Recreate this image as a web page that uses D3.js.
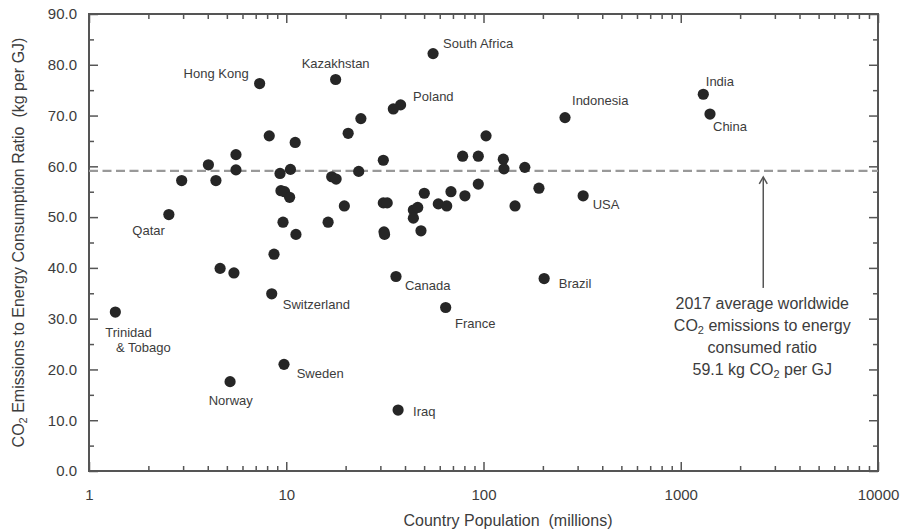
<!DOCTYPE html>
<html lang="en">
<head>
  <meta charset="UTF-8">
  <title>CO2 Emissions to Energy Consumption Ratio vs Population</title>
  <script src="https://d3js.org/d3.v7.min.js"></script>
  <style>
    body, html {
      margin: 0;
      padding: 0;
      background: #fff;
    }
    svg {
      display: block;
      font-family: Arial, "Liberation Sans", sans-serif;
    }
    .tick text {
      font-size: 15px;
      fill: #3c3c3c;
    }
    .tick line {
      stroke: #555;
      stroke-width: 1.5px;
    }
    .axis-title {
      font-size: 16px;
      fill: #3c3c3c;
    }
    .country-label {
      font-size: 13px;
      fill: #3c3c3c;
    }
    .note {
      font-size: 16px;
      fill: #3c3c3c;
      text-anchor: middle;
    }
  </style>
</head>
<body>
  <svg id="chart" width="901" height="532"></svg>

  <script>
    // Country names (empty = unlabeled point)
    const countries = [
      "Trinidad\n& Tobago", "Qatar", "Hong Kong", "Norway", "Switzerland", "Sweden",
      "Kazakhstan", "South Africa", "Poland", "Canada", "France", "Iraq", "Brazil",
      "Indonesia", "USA", "India", "China",
      "", "", "", "", "", "", "", "", "", "", "", "", "", "", "", "",
      "", "", "", "", "", "", "", "", "", "", "", "", "", "", "", "",
      "", "", "", "", "", "", "", "", "", "", "", "", "", "", "", ""
    ];

    // Population in millions
    const population = [
      1.36, 2.54, 7.33, 5.19, 8.44, 9.74,
      17.8, 55.5, 38.0, 36.0, 64.3, 36.9, 203,
      259, 320, 1301, 1407,
      2.95, 4.03, 4.40, 5.56, 5.56, 4.62, 5.43, 8.67, 8.2, 11.1, 9.3, 10.5, 9.4, 9.8, 10.4, 9.63,
      11.2, 17.0, 17.9, 20.6, 23.9, 34.9, 31.05, 23.3, 19.7, 16.3, 31.05, 32.5, 31.3, 31.5, 103, 78.4,
      94.1, 126, 127, 162, 191, 144.5, 94.1, 80.5, 68.4, 59.0, 65.1, 50.1, 44.1, 46.4, 44.1, 48.2
    ];

    // CO2 emissions to energy consumption ratio (kg per GJ)
    const ratio = [
      31.3, 50.5, 76.3, 17.6, 34.9, 21.0,
      77.1, 82.2, 72.1, 38.3, 32.2, 12.0, 37.9,
      69.6, 54.2, 74.2, 70.3,
      57.2, 60.3, 57.2, 62.3, 59.3, 39.9, 39.0, 42.7, 66.0, 64.7, 58.6, 59.4, 55.2, 55.0, 53.9, 49.0,
      46.6, 57.95, 57.5, 66.5, 69.4, 71.3, 61.2, 59.0, 52.2, 49.0, 52.8, 52.8, 47.1, 46.6, 66.0, 62.0,
      62.0, 61.4, 59.5, 59.8, 55.7, 52.2, 56.5, 54.2, 55.0, 52.6, 52.2, 54.7, 51.4, 51.9, 49.8, 47.3
    ];

    const worldAverage = 59.1;
    const xMajorTicks = [1, 10, 100, 1000, 10000];
    const yMajorTicks = [0, 10, 20, 30, 40, 50, 60, 70, 80, 90];

    // label placement relative to its point: anchor, [dx, dy] per line
    const labelPos = {
      "Trinidad\n& Tobago": { anchor: "start", lines: [[-10, 20], [0.7, 35]] },
      "Qatar": { anchor: "end", lines: [[-4, 15.5]] },
      "Hong Kong": { anchor: "end", lines: [[-11, -10]] },
      "Norway": { anchor: "middle", lines: [[0.7, 18.3]] },
      "Switzerland": { anchor: "start", lines: [[11, 10.3]] },
      "Sweden": { anchor: "start", lines: [[12.7, 9]] },
      "Kazakhstan": { anchor: "middle", lines: [[0, -16]] },
      "South Africa": { anchor: "start", lines: [[10, -10.5]] },
      "Poland": { anchor: "start", lines: [[12.5, -9]] },
      "Canada": { anchor: "start", lines: [[9, 8.3]] },
      "France": { anchor: "start", lines: [[9.3, 16.3]] },
      "Iraq": { anchor: "start", lines: [[15, 1.7]] },
      "Brazil": { anchor: "start", lines: [[14.7, 4.7]] },
      "Indonesia": { anchor: "start", lines: [[7, -17.5]] },
      "USA": { anchor: "start", lines: [[9.5, 9]] },
      "India": { anchor: "start", lines: [[2.5, -12.5]] },
      "China": { anchor: "start", lines: [[3, 12]] }
    };

    const data = countries.map((c, i) => ({ name: c, pop: population[i], val: ratio[i] }));

    const margin = { top: 14, right: 23, bottom: 61, left: 89 };
    const W = 901, H = 532;
    const innerW = W - margin.left - margin.right;
    const innerH = H - margin.top - margin.bottom;

    const svg = d3.select("#chart");
    const g = svg.append("g").attr("transform", `translate(${margin.left},${margin.top})`);

    const x = d3.scaleLog().domain([1, 10000]).range([0, innerW]);
    const y = d3.scaleLinear().domain([0, 90]).range([innerH, 0]);

    // minor ticks on log axis: 2..9 of each decade
    const xMinorTicks = [];
    [1, 10, 100, 1000].forEach(d => { for (let k = 2; k <= 9; k++) xMinorTicks.push(d * k); });
    const yMinorTicks = yMajorTicks.slice(0, -1).map(d => d + 5);

    function styleAxis(sel) {
      sel.select(".domain").remove();
    }

    // bottom
    g.append("g").attr("transform", `translate(0,${innerH})`)
      .call(d3.axisBottom(x).tickValues(xMinorTicks).tickSizeInner(-5).tickSizeOuter(0).tickFormat(""))
      .call(styleAxis);
    g.append("g").attr("transform", `translate(0,${innerH})`)
      .call(d3.axisBottom(x).tickValues(xMajorTicks).tickSizeInner(-9).tickSizeOuter(0)
        .tickPadding(18).tickFormat(d3.format("d")))
      .call(styleAxis);
    // top
    g.append("g")
      .call(d3.axisTop(x).tickValues(xMinorTicks).tickSizeInner(-5).tickSizeOuter(0).tickFormat(""))
      .call(styleAxis);
    g.append("g")
      .call(d3.axisTop(x).tickValues(xMajorTicks).tickSizeInner(-9).tickSizeOuter(0).tickFormat(""))
      .call(styleAxis);
    // left
    g.append("g")
      .call(d3.axisLeft(y).tickValues(yMinorTicks).tickSizeInner(-5).tickSizeOuter(0).tickFormat(""))
      .call(styleAxis);
    g.append("g")
      .call(d3.axisLeft(y).tickValues(yMajorTicks).tickSizeInner(-9).tickSizeOuter(0)
        .tickPadding(12).tickFormat(d3.format(".1f")))
      .call(styleAxis);
    // right
    g.append("g").attr("transform", `translate(${innerW},0)`)
      .call(d3.axisRight(y).tickValues(yMinorTicks).tickSizeInner(-5).tickSizeOuter(0).tickFormat(""))
      .call(styleAxis);
    g.append("g").attr("transform", `translate(${innerW},0)`)
      .call(d3.axisRight(y).tickValues(yMajorTicks).tickSizeInner(-9).tickSizeOuter(0).tickFormat(""))
      .call(styleAxis);

    // frame
    g.append("rect")
      .attr("width", innerW).attr("height", innerH)
      .attr("fill", "none").attr("stroke", "#555").attr("stroke-width", 2);

    // world average dashed line
    g.append("line")
      .attr("x1", 0).attr("x2", innerW)
      .attr("y1", y(worldAverage)).attr("y2", y(worldAverage))
      .attr("stroke", "#999").attr("stroke-width", 2.2)
      .attr("stroke-dasharray", "9,4.5");

    // points
    g.selectAll(".dot")
      .data(data)
      .enter().append("circle")
      .attr("class", "dot")
      .attr("cx", d => x(d.pop))
      .attr("cy", d => y(d.val))
      .attr("r", 5.6)
      .attr("fill", "#262626");

    // country labels
    const labeled = data.filter(d => d.name);
    labeled.forEach(d => {
      const p = labelPos[d.name];
      const parts = d.name.split("\n");
      parts.forEach((t, i) => {
        g.append("text")
          .attr("class", "country-label")
          .attr("x", x(d.pop) + p.lines[i][0])
          .attr("y", y(d.val) + p.lines[i][1])
          .attr("dy", "0.36em")
          .attr("text-anchor", p.anchor)
          .text(t);
      });
    });

    // annotation arrow
    const ax = x(2620);
    const tipY = y(worldAverage) + 6;
    const baseY = y(worldAverage) + 117;
    g.append("line")
      .attr("x1", ax).attr("x2", ax).attr("y1", tipY).attr("y2", baseY)
      .attr("stroke", "#555").attr("stroke-width", 1.5);
    g.append("path")
      .attr("d", `M${ax - 4},${tipY + 7}L${ax},${tipY}L${ax + 4},${tipY + 7}`)
      .attr("fill", "none").attr("stroke", "#555").attr("stroke-width", 1.5);

    const noteLines = [
      [{ t: "2017 average worldwide" }],
      [{ t: "CO" }, { t: "2", sub: true }, { t: " emissions to energy" }],
      [{ t: "consumed ratio" }],
      [{ t: "59.1 kg CO" }, { t: "2", sub: true }, { t: " per GJ" }]
    ];
    noteLines.forEach((parts, i) => {
      const txt = g.append("text")
        .attr("class", "note")
        .attr("x", ax - 1)
        .attr("y", baseY + 21 + i * 22);
      parts.forEach(pt => {
        const ts = txt.append("tspan").text(pt.t);
        if (pt.sub) ts.attr("baseline-shift", "-25%").attr("font-size", "11px");
      });
    });

    // axis titles
    svg.append("text")
      .attr("class", "axis-title")
      .attr("x", 508).attr("y", 526)
      .attr("text-anchor", "middle")
      .attr("xml:space", "preserve")
      .text("Country Population  (millions)");

    const yt = svg.append("text")
      .attr("class", "axis-title")
      .attr("transform", `translate(24,${margin.top + innerH / 2}) rotate(-90)`)
      .attr("text-anchor", "middle")
      .attr("xml:space", "preserve");
    yt.append("tspan").text("CO");
    yt.append("tspan").text("2").attr("baseline-shift", "-25%").attr("font-size", "11px");
    yt.append("tspan").text(" Emissions to Energy Consumption Ratio  (kg per GJ)");
  </script>
</body>
</html>
